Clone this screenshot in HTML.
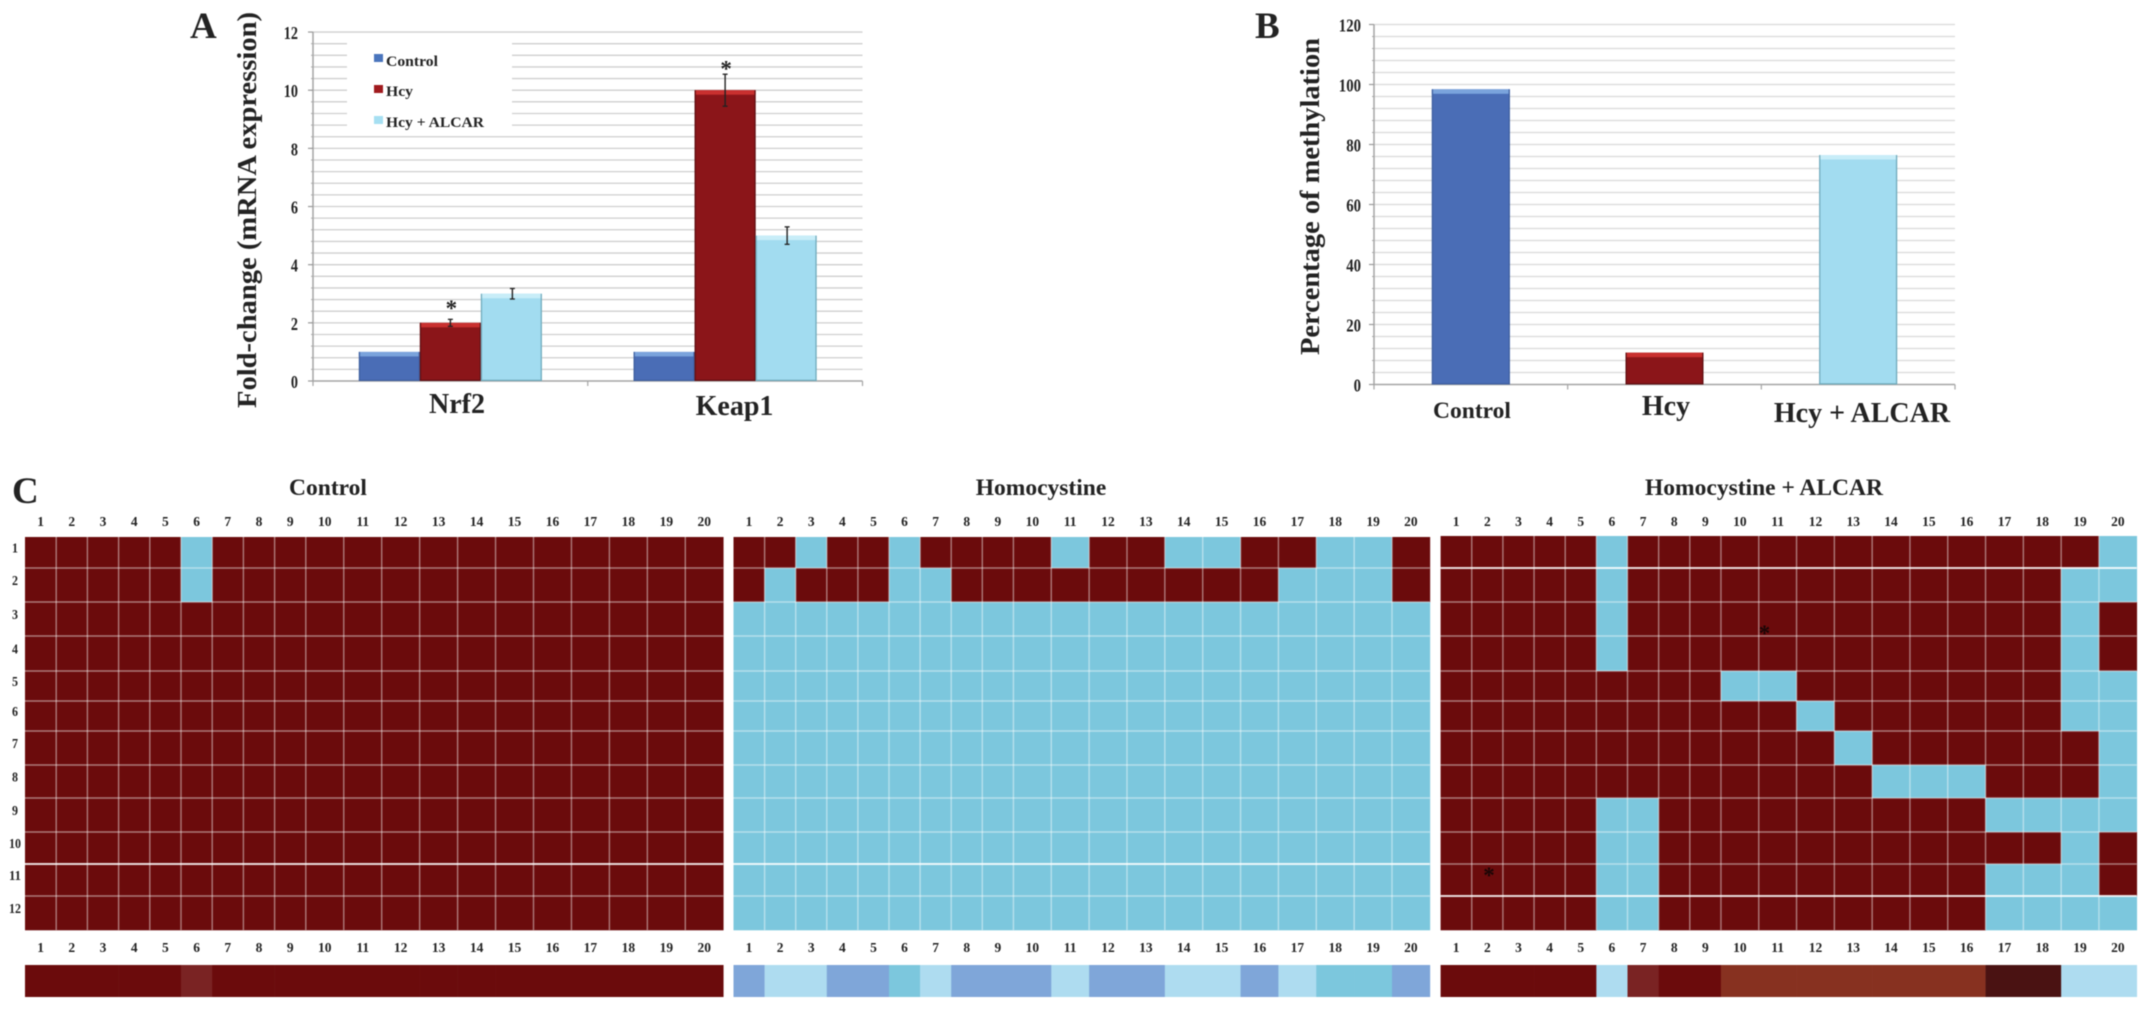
<!DOCTYPE html>
<html lang="en">
<head>
<meta charset="utf-8">
<title>Nrf2 / Keap1 expression and methylation charts</title>
<style>
html,body{margin:0;padding:0;background:#fff;width:2150px;height:1012px;overflow:hidden}
svg{display:block;filter:blur(.45px)}
text{font-family:"Liberation Serif",serif;font-weight:bold;fill:#232323}
</style>
</head>
<body>
<svg id="figure" xmlns="http://www.w3.org/2000/svg" width="2150" height="1012" viewBox="0 0 2150 1012">
  <rect width="2150" height="1012" fill="#fff"/>
  <g id="grids"></g>
  <g id="marks"></g>
  <text x="190" y="38" font-size="37">A</text>
  <text x="1255" y="38" font-size="37">B</text>
  <text x="12" y="503" font-size="37">C</text>
  <text transform="translate(256,408) rotate(-90)" font-size="27.5" textLength="396" lengthAdjust="spacingAndGlyphs">Fold-change (mRNA expression)</text>
  <text transform="translate(1319,355) rotate(-90)" font-size="27.5" textLength="317" lengthAdjust="spacingAndGlyphs">Percentage of methylation</text>
  <text x="457" y="413" font-size="28" text-anchor="middle">Nrf2</text>
  <text x="734.5" y="415" font-size="28" text-anchor="middle">Keap1</text>
  <text x="1472" y="418" font-size="23.5" text-anchor="middle">Control</text>
  <text x="1666" y="415" font-size="28" text-anchor="middle">Hcy</text>
  <text x="1862" y="422" font-size="28" text-anchor="middle">Hcy + ALCAR</text>
  <rect x="347" y="35" width="165" height="95" fill="#fff"/>
  <g>
    <rect x="374" y="54" width="9" height="8" fill="#4a75bd"/>
    <text x="386" y="66" font-size="15" textLength="52" lengthAdjust="spacingAndGlyphs">Control</text>
    <rect x="374" y="85" width="9" height="8" fill="#a01a1e"/>
    <text x="386" y="96" font-size="15" textLength="27" lengthAdjust="spacingAndGlyphs">Hcy</text>
    <rect x="374" y="116" width="9" height="8" fill="#a6dff2"/>
    <text x="386" y="127" font-size="15" textLength="98" lengthAdjust="spacingAndGlyphs">Hcy + ALCAR</text>
  </g>
  <text x="328" y="495" font-size="23.5" text-anchor="middle">Control</text>
  <text x="1041" y="495" font-size="23.5" text-anchor="middle">Homocystine</text>
  <text x="1764" y="495" font-size="23.5" text-anchor="middle">Homocystine + ALCAR</text>
  <g id="heatmaps"></g>
</svg>
<script>
/* ---------- Panel A data ---------- */
const aCategories = ['Nrf2', 'Keap1'];
const aSeriesNames = ['control', 'hcy', 'hcy-alcar'];
const aControl = [1, 1];
const aHcy = [2, 10];
const aHcyAlcar = [3, 5];
const aHcyError = [0.12, 0.55];
const aHcyAlcarError = [0.18, 0.3];
const aStarValues = [2.62, 10.85];
const aTicks = [0, 2, 4, 6, 8, 10, 12];

/* ---------- Panel B data ---------- */
const bCategories = ['Control', 'Hcy', 'Hcy + ALCAR'];
const bValues = [98.4, 10.6, 76.5];
const bTicks = [0, 20, 40, 60, 80, 100, 120];

/* ---------- Panel C data (1 = methylated, 0 = unmethylated) ---------- */
const columnLabels = [1,2,3,4,5,6,7,8,9,10,11,12,13,14,15,16,17,18,19,20];
const rowLabels = [1,2,3,4,5,6,7,8,9,10,11,12];
const heatControl = [
 [1,1,1,1,1,0,1,1,1,1,1,1,1,1,1,1,1,1,1,1],
 [1,1,1,1,1,0,1,1,1,1,1,1,1,1,1,1,1,1,1,1],
 [1,1,1,1,1,1,1,1,1,1,1,1,1,1,1,1,1,1,1,1],
 [1,1,1,1,1,1,1,1,1,1,1,1,1,1,1,1,1,1,1,1],
 [1,1,1,1,1,1,1,1,1,1,1,1,1,1,1,1,1,1,1,1],
 [1,1,1,1,1,1,1,1,1,1,1,1,1,1,1,1,1,1,1,1],
 [1,1,1,1,1,1,1,1,1,1,1,1,1,1,1,1,1,1,1,1],
 [1,1,1,1,1,1,1,1,1,1,1,1,1,1,1,1,1,1,1,1],
 [1,1,1,1,1,1,1,1,1,1,1,1,1,1,1,1,1,1,1,1],
 [1,1,1,1,1,1,1,1,1,1,1,1,1,1,1,1,1,1,1,1],
 [1,1,1,1,1,1,1,1,1,1,1,1,1,1,1,1,1,1,1,1],
 [1,1,1,1,1,1,1,1,1,1,1,1,1,1,1,1,1,1,1,1]
];
const heatHomocystine = [
 [1,1,0,1,1,0,1,1,1,1,0,1,1,0,0,1,1,0,0,1],
 [1,0,1,1,1,0,0,1,1,1,1,1,1,1,1,1,0,0,0,1],
 [0,0,0,0,0,0,0,0,0,0,0,0,0,0,0,0,0,0,0,0],
 [0,0,0,0,0,0,0,0,0,0,0,0,0,0,0,0,0,0,0,0],
 [0,0,0,0,0,0,0,0,0,0,0,0,0,0,0,0,0,0,0,0],
 [0,0,0,0,0,0,0,0,0,0,0,0,0,0,0,0,0,0,0,0],
 [0,0,0,0,0,0,0,0,0,0,0,0,0,0,0,0,0,0,0,0],
 [0,0,0,0,0,0,0,0,0,0,0,0,0,0,0,0,0,0,0,0],
 [0,0,0,0,0,0,0,0,0,0,0,0,0,0,0,0,0,0,0,0],
 [0,0,0,0,0,0,0,0,0,0,0,0,0,0,0,0,0,0,0,0],
 [0,0,0,0,0,0,0,0,0,0,0,0,0,0,0,0,0,0,0,0],
 [0,0,0,0,0,0,0,0,0,0,0,0,0,0,0,0,0,0,0,0]
];
const heatHomocystineAlcar = [
 [1,1,1,1,1,0,1,1,1,1,1,1,1,1,1,1,1,1,1,0],
 [1,1,1,1,1,0,1,1,1,1,1,1,1,1,1,1,1,1,0,0],
 [1,1,1,1,1,0,1,1,1,1,1,1,1,1,1,1,1,1,0,1],
 [1,1,1,1,1,0,1,1,1,1,1,1,1,1,1,1,1,1,0,1],
 [1,1,1,1,1,1,1,1,1,0,0,1,1,1,1,1,1,1,0,0],
 [1,1,1,1,1,1,1,1,1,1,1,0,1,1,1,1,1,1,0,0],
 [1,1,1,1,1,1,1,1,1,1,1,1,0,1,1,1,1,1,1,0],
 [1,1,1,1,1,1,1,1,1,1,1,1,1,0,0,0,1,1,1,0],
 [1,1,1,1,1,0,0,1,1,1,1,1,1,1,1,1,0,0,0,0],
 [1,1,1,1,1,0,0,1,1,1,1,1,1,1,1,1,1,1,0,1],
 [1,1,1,1,1,0,0,1,1,1,1,1,1,1,1,1,0,0,0,1],
 [1,1,1,1,1,0,0,1,1,1,1,1,1,1,1,1,0,0,0,0]
];
/* summary strip classes per column */
const stripControl = ['M','M','M','M','M','m','M','M','M','M','M','M','M','M','M','M','M','M','M','M'];
const stripHomocystine = ['B','L','L','B','B','C','L','B','B','B','L','B','B','L','L','B','L','C','C','B'];
const stripHomocystineAlcar = ['M','M','M','M','M','L','m','M','M','R','R','R','R','R','R','R','D','D','L','L'];

/* ---------- helpers ---------- */
const NS = 'http://www.w3.org/2000/svg';
const grids = document.getElementById('grids');
const marks = document.getElementById('marks');
const heatmaps = document.getElementById('heatmaps');

function makeRect(parent, name, x, y, w, h, fill) {
  const el = document.createElementNS(NS, 'rect');
  
  
  el.setAttribute('x', x);
  el.setAttribute('y', y);
  el.setAttribute('width', w);
  el.setAttribute('height', h);
  el.setAttribute('fill', fill);
  parent.appendChild(el);
  return el;
}
function makeLine(parent, name, x1, y1, x2, y2, stroke, width) {
  const el = document.createElementNS(NS, 'line');
  
  
  el.setAttribute('x1', x1);
  el.setAttribute('y1', y1);
  el.setAttribute('x2', x2);
  el.setAttribute('y2', y2);
  el.setAttribute('stroke', stroke);
  el.setAttribute('stroke-width', width);
  parent.appendChild(el);
  return el;
}
function makeText(parent, name, x, y, str, size, anchor, squeeze) {
  const el = document.createElementNS(NS, 'text');
  
  
  el.setAttribute('x', x);
  el.setAttribute('y', y);
  el.setAttribute('font-size', size);
  el.setAttribute('text-anchor', anchor);
  if (squeeze) {
    el.setAttribute('textLength', String(str).length * squeeze);
    el.setAttribute('lengthAdjust', 'spacingAndGlyphs');
  }
  el.textContent = str;
  parent.appendChild(el);
  return el;
}

/* ---------- axes ---------- */
const aAxis = { left: 313, right: 862.5, zero: 381, perUnit: 29.08, minor: 0.4, barW: 61 };
const bAxis = { left: 1374, right: 1955, zero: 384.5, perUnit: 3.0, minor: 4, barW: 78 };
const yA = v => aAxis.zero - v * aAxis.perUnit;
const yB = v => bAxis.zero - v * bAxis.perUnit;
const bandA = i => aAxis.left + (aAxis.right - aAxis.left) * (i + 0.5) / aCategories.length;
const bandB = i => bAxis.left + (bAxis.right - bAxis.left) * (i + 0.5) / bCategories.length;

function drawAxes(prefix, axis, yFn, ticks, cats, gridColor, tickRight, squeeze) {
  const top = ticks[ticks.length - 1];
  const steps = Math.round(top / axis.minor);
  for (let s = 1; s <= steps; s++) {
    const y = yFn(s * axis.minor);
    makeLine(grids, prefix + '-gridline', axis.left, y, axis.right, y, gridColor, 1.3);
    makeLine(grids, prefix + '-minor-tick', axis.left - 2, y, axis.left, y, '#aaa', 1);
  }
  makeLine(grids, prefix + '-y-axis', axis.left, yFn(top), axis.left, axis.zero, '#a5a5a5', 1.5);
  makeLine(grids, prefix + '-x-axis', axis.left, axis.zero, axis.right, axis.zero, '#a5a5a5', 1.5);
  for (let c = 0; c <= cats.length; c++) {
    const x = axis.left + (axis.right - axis.left) * c / cats.length;
    makeLine(grids, prefix + '-x-tick', x, axis.zero, x, axis.zero + 5, '#a5a5a5', 1.2);
  }
  ticks.forEach(t => {
    makeLine(grids, prefix + '-y-tick', axis.left - 5, yFn(t), axis.left, yFn(t), '#999', 1.2);
    makeText(grids, prefix + '-y-tick-label', tickRight, yFn(t) + 7, t, 18, 'end', squeeze);
  });
}
drawAxes('chart-a', aAxis, yA, aTicks, aCategories, '#cfcfcf', 298, 7.1);
drawAxes('chart-b', bAxis, yB, bTicks, bCategories, '#d9d9d9', 1361, 7.4);

/* ---------- bars ---------- */
const barStyles = {
  'control': { body: '#4a6db6', top: '#7aa3dc', edge: '#3e5f9f' },
  'hcy': { body: '#8b1519', top: '#c9302f', edge: '#5f0f12' },
  'hcy-alcar': { body: '#a2dcf0', top: '#c8edf8', edge: '#6fa9ba' }
};
function drawBar(prefix, series, x, w, yTop, zero) {
  const st = barStyles[series];
  makeRect(marks, prefix + '-bar-' + series, x, yTop, w, zero - yTop, st.body);
  makeRect(marks, prefix + '-bar-highlight-' + series, x, yTop, w, 4.5, st.top);
  makeLine(marks, prefix + '-bar-edge-' + series, x + w - 0.6, yTop, x + w - 0.6, zero, st.edge, 1.2);
  makeLine(marks, prefix + '-bar-edge-' + series, x + 0.6, yTop, x + 0.6, zero, st.edge, 1.2);
  makeLine(marks, prefix + '-bar-base-' + series, x, zero - 0.6, x + w, zero - 0.6, st.edge, 1.2);
}
function drawError(name, x, value, err) {
  makeLine(marks, name, x, yA(value + err), x, yA(value - err), '#222', 1.4);
  makeLine(marks, name + '-cap', x - 2.5, yA(value + err), x + 2.5, yA(value + err), '#222', 1.3);
  makeLine(marks, name + '-cap', x - 2.5, yA(value - err), x + 2.5, yA(value - err), '#222', 1.3);
}
aCategories.forEach((cat, i) => {
  const cx = bandA(i);
  const w = aAxis.barW;
  const series = [aControl[i], aHcy[i], aHcyAlcar[i]];
  series.forEach((v, s) => {
    drawBar('chart-a', aSeriesNames[s], cx - 1.5 * w + s * w, w, yA(v), aAxis.zero);
  });
  drawError('error-bar-hcy', cx, aHcy[i], aHcyError[i]);
  drawError('error-bar-hcy-alcar', cx + w + 1, aHcyAlcar[i], aHcyAlcarError[i]);
  makeText(marks, 'significance-star', cx + 1, yA(aStarValues[i]) + 11, '*', 23, 'middle');
});
bCategories.forEach((cat, i) => {
  const w = bAxis.barW;
  drawBar('chart-b', aSeriesNames[i], bandB(i) - w / 2, w, yB(bValues[i]), bAxis.zero);
});

/* ---------- heatmaps ---------- */
const rowEdges = [0, 31, 65, 99, 134, 164, 194, 228, 261, 295, 327, 359, 393];
const heatBottom = 930;
const stripTop = 965;
const stripHeight = 32;
const heatColors = ['#7cc7dd', '#6b0b0c'];
const stripColors = { M: '#6b0b0c', m: '#7a2323', B: '#7fa6d9', L: '#aedcf0', C: '#7cc7dd', R: '#873120', D: '#4a1212' };
const panels = [
  { key: 'control', data: heatControl, strip: stripControl, left: 25, narrow: 31.2, wide: 37.95, top: 537, bright: [10] },
  { key: 'homocystine', data: heatHomocystine, strip: stripHomocystine, left: 733.5, narrow: 31.1, wide: 37.86, top: 537, bright: [10] },
  { key: 'homocystine-alcar', data: heatHomocystineAlcar, strip: stripHomocystineAlcar, left: 1440.6, narrow: 31.15, wide: 37.8, top: 536, bright: [1, 11] }
];
function colX(p, i) {
  return i <= 9 ? p.left + i * p.narrow : p.left + 9 * p.narrow + (i - 9) * p.wide;
}
panels.forEach(p => {
  const rowY = r => r === 0 ? p.top : 537 + rowEdges[r];
  p.data.forEach((row, r) => {
    row.forEach((v, c) => {
      const x = colX(p, c);
      makeRect(heatmaps, 'heatmap-cell-' + p.key, x, rowY(r), colX(p, c + 1) - x + 0.3, rowY(r + 1) - rowY(r) + 0.3, heatColors[v]);
    });
  });
  const right = colX(p, columnLabels.length);
  for (let c = 1; c < columnLabels.length; c++) {
    makeLine(heatmaps, 'heatmap-column-line-' + p.key, colX(p, c), p.top, colX(p, c), heatBottom, 'rgba(255,255,255,.45)', 1.4);
  }
  for (let r = 1; r < rowLabels.length; r++) {
    const bright = p.bright.indexOf(r) >= 0;
    makeLine(heatmaps, 'heatmap-row-line-' + p.key, p.left, rowY(r), right, rowY(r), bright ? 'rgba(255,255,255,.85)' : 'rgba(255,255,255,.45)', bright ? 2 : 1.5);
  }
  columnLabels.forEach((lab, c) => {
    const cx = (colX(p, c) + colX(p, c + 1)) / 2;
    makeText(heatmaps, 'column-label-top-' + p.key, cx, 526, lab, 13.5, 'middle');
    makeText(heatmaps, 'column-label-bottom-' + p.key, cx, 952, lab, 13.5, 'middle');
    makeRect(heatmaps, 'summary-strip-cell-' + p.key, colX(p, c), stripTop, colX(p, c + 1) - colX(p, c) + 0.3, stripHeight, stripColors[p.strip[c]]);
  });
});
rowLabels.forEach((lab, r) => {
  const cy = 537 + (rowEdges[r] + rowEdges[r + 1]) / 2;
  makeText(heatmaps, 'row-label', 15, cy, lab, 13.5, 'middle', 6);
});
makeText(heatmaps, 'heatmap-star', 1764.5, 641, '*', 23, 'middle').style.fill = '#1a0606';
makeText(heatmaps, 'heatmap-star', 1489, 883, '*', 23, 'middle').style.fill = '#1a0606';
</script>
</body>
</html>
